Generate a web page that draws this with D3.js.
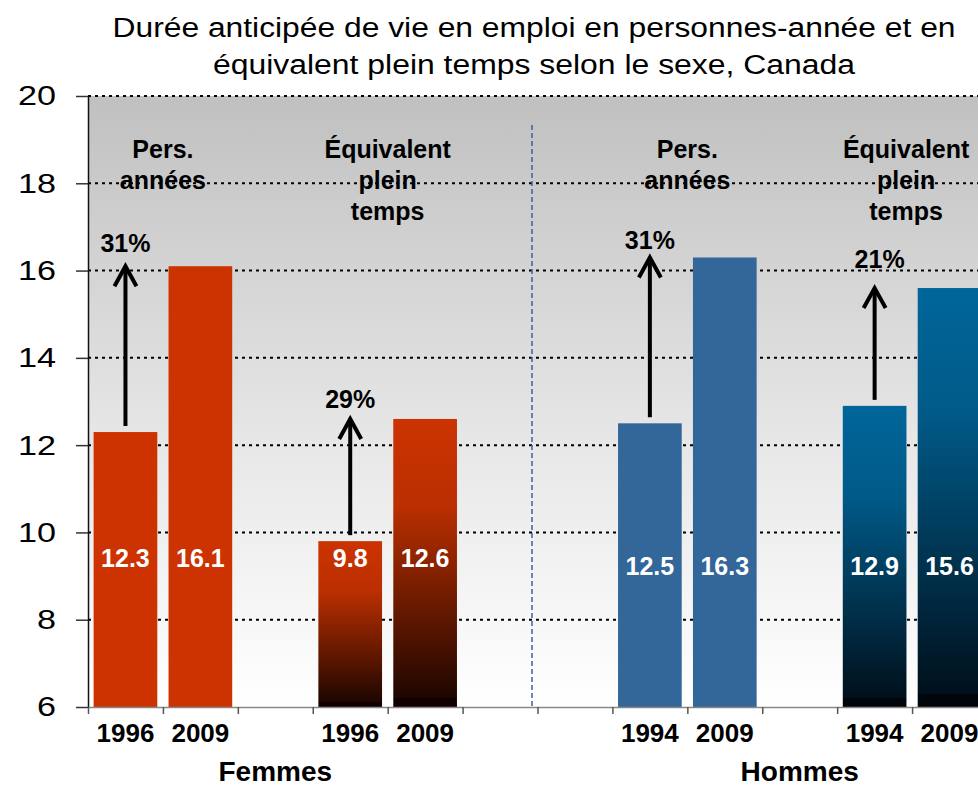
<!DOCTYPE html>
<html lang="fr">
	<head>
		<meta charset="UTF-8">
		<title>Durée anticipée de vie en emploi</title>
		<script src="https://d3js.org/d3.v7.min.js"></script>
		<style>
			body { margin: 0; background: #fff; }
			text { font-family: "Liberation Sans", Arial, sans-serif; }
		</style>
	</head>
	<body>
		<script>
			// one slot per band on the category axis, empty slots are spacers
			var years = ['1996', '2009', '', '1996', '2009', '', '', '1994', '2009', '', '1994', '2009'];
			var values = [12.3, 16.1, null, 9.8, 12.6, null, null, 12.5, 16.3, null, 12.9, 15.6];
			var series = ['fPers', 'fPers', null, 'fEquiv', 'fEquiv', null, null, 'hPers', 'hPers', null, 'hEquiv', 'hEquiv'];
			var yTicks = [6, 8, 10, 12, 14, 16, 18, 20];

			var groupNames = ['Femmes', 'Hommes'];
			var groupFirst = [0, 7];
			var groupLast = [4, 11];

			var pairFrom = [0, 3, 7, 10];
			var pairTo = [1, 4, 8, 11];
			var pairGrowth = ['31%', '29%', '31%', '21%'];
			var pairTitles = [['Pers.', 'années'], ['Équivalent', 'plein', 'temps'], ['Pers.', 'années'], ['Équivalent', 'plein', 'temps']];

			var titleLines = ['Durée anticipée de vie en emploi en personnes-année et en',
				'équivalent plein temps selon le sexe, Canada'];

			var width = 978, height = 787;
			var plotLeft = 88, plotRight = 987, plotTop = 96, plotBottom = 707;

			var svg = d3.select('body')
						.append('svg')
						.attr('width', width)
						.attr('height', height);

			var defs = svg.append('defs');

			function vGradient(id, stops) {
				var g = defs.append('linearGradient')
							.attr('id', id)
							.attr('x1', 0).attr('y1', 0)
							.attr('x2', 0).attr('y2', 1);
				stops.forEach(function(s) {
					g.append('stop').attr('offset', s[0]).attr('stop-color', s[1]);
				});
			}
			vGradient('bg', [[0, '#c0c0c0'], [0.55, '#e6e6e6'], [1, '#ffffff']]);
			vGradient('fEquiv', [[0, '#cc3300'], [0.3, '#bb2f00'], [0.97, '#1e0600'], [0.97, '#120000'], [1, '#120000']]);
			vGradient('hEquiv', [[0, '#006699'], [0.3, '#005a88'], [0.97, '#00101c'], [0.97, '#00060c'], [1, '#00060c']]);

			var fills = {
				fPers: '#cc3300',
				fEquiv: 'url(#fEquiv)',
				hPers: '#336699',
				hEquiv: 'url(#hEquiv)'
			};

			var x = d3.scaleBand()
						.domain(d3.range(years.length))
						.range([plotLeft, plotRight])
						.paddingInner(0.15)
						.paddingOuter(0.075);

			var edges = d3.scaleLinear()
						.domain([0, years.length])
						.range([plotLeft, plotRight]);

			var y = d3.scaleLinear()
						.domain([6, 20])
						.range([plotBottom, plotTop]);

			function mid(i) { return x(i) + x.bandwidth() / 2; }

			// plot background
			svg.append('rect')
				.attr('x', plotLeft)
				.attr('y', plotTop)
				.attr('width', plotRight - plotLeft)
				.attr('height', plotBottom - plotTop)
				.attr('fill', 'url(#bg)');

			// dotted grid
			svg.selectAll('.grid')
				.data(yTicks.filter(function(d) { return d > 6; }))
				.enter()
					.append('line')
					.attr('x1', plotLeft)
					.attr('x2', plotRight)
					.attr('y1', function(d) { return y(d); })
					.attr('y2', function(d) { return y(d); })
					.attr('stroke', '#000')
					.attr('stroke-width', 2)
					.attr('stroke-dasharray', '3,4');

			// separator between the sexes
			svg.append('line')
				.attr('x1', 532).attr('x2', 532)
				.attr('y1', 125).attr('y2', plotBottom)
				.attr('stroke', '#336699')
				.attr('stroke-width', 1.5)
				.attr('stroke-dasharray', '5,3');

			var idx = d3.range(values.length).filter(function(i) { return values[i] !== null; });

			svg.selectAll('.bar')
				.data(idx)
				.enter()
					.append('rect')
					.attr('x', function(i) { return x(i); })
					.attr('y', function(i) { return y(values[i]); })
					.attr('width', x.bandwidth())
					.attr('height', function(i) { return plotBottom - y(values[i]); })
					.attr('fill', function(i) { return fills[series[i]]; });

			// value labels inside bars
			svg.selectAll('.val')
				.data(idx)
				.enter()
					.append('text')
					.attr('x', function(i) { return mid(i); })
					.attr('y', function(i) { return i < 6 ? 567 : 575; })
					.attr('text-anchor', 'middle')
					.attr('font-size', 25)
					.attr('font-weight', 'bold')
					.attr('fill', '#fff')
					.text(function(i) { return d3.format('.1f')(values[i]); });

			// y axis
			var yAxis = svg.append('g')
						.attr('transform', 'translate(' + plotLeft + ',0)')
						.call(d3.axisLeft(y).tickValues(yTicks).tickSize(12).tickPadding(20).tickSizeOuter(0));
			yAxis.select('.domain').attr('stroke', '#111').attr('stroke-width', 1.5);
			yAxis.selectAll('.tick line').attr('stroke', '#333').attr('stroke-width', 1.5);
			yAxis.selectAll('.tick text')
				.attr('font-size', 28)
				.attr('fill', '#000')
				.attr('textLength', function(d) { return String(d).length * 19; })
				.attr('lengthAdjust', 'spacingAndGlyphs');

			// x axis: ticks on band edges
			var xAxis = svg.append('g')
						.attr('transform', 'translate(0,' + plotBottom + ')')
						.call(d3.axisBottom(edges).tickValues(d3.range(years.length + 1)).tickSize(7).tickSizeOuter(0).tickFormat(''));
			xAxis.select('.domain').attr('stroke', '#888').attr('stroke-width', 1.5);
			xAxis.selectAll('.tick line').attr('stroke', '#555').attr('stroke-width', 1.5);

			svg.selectAll('.year')
				.data(idx)
				.enter()
					.append('text')
					.attr('x', function(i) { return mid(i); })
					.attr('y', 742)
					.attr('text-anchor', 'middle')
					.attr('font-size', 26)
					.attr('font-weight', 'bold')
					.text(function(i) { return years[i]; });

			svg.selectAll('.group')
				.data(groupNames)
				.enter()
					.append('text')
					.attr('x', function(d, k) { return (x(groupFirst[k]) + x(groupLast[k]) + x.bandwidth()) / 2; })
					.attr('y', 781)
					.attr('text-anchor', 'middle')
					.attr('font-size', 28)
					.attr('font-weight', 'bold')
					.text(function(d) { return d; });

			// series titles above each pair
			pairTitles.forEach(function(lines, k) {
				var cx = (x(pairFrom[k]) + x(pairTo[k]) + x.bandwidth()) / 2;
				var t = svg.append('text')
							.attr('text-anchor', 'middle')
							.attr('font-size', 25)
							.attr('font-weight', 'bold');
				lines.forEach(function(s, j) {
					t.append('tspan').attr('x', cx).attr('y', 158 + j * 31).text(s);
				});
				// keep the last block inside the picture
				var box = t.node().getBBox();
				if (box.x + box.width > width - 8) {
					t.selectAll('tspan').attr('x', cx - (box.x + box.width - (width - 8)));
				}
			});

			// growth arrows
			var lift = [14, 11, 8, 20];
			pairFrom.forEach(function(a, k) {
				var b = pairTo[k];
				var cx = mid(a);
				var tip = y(values[b]);
				var base = y(values[a]) - 6;
				svg.append('path')
					.attr('d', 'M' + cx + ',' + base + 'V' + (tip + 1))
					.attr('stroke', '#000')
					.attr('stroke-width', 4)
					.attr('fill', 'none');
				svg.append('path')
					.attr('d', 'M' + (cx - 11) + ',' + (tip + 20) + 'L' + cx + ',' + tip + 'L' + (cx + 11) + ',' + (tip + 20))
					.attr('stroke', '#000')
					.attr('stroke-width', 4)
					.attr('fill', 'none');
				svg.append('text')
					.attr('x', cx + (k === 3 ? 5 : 0))
					.attr('y', tip - lift[k])
					.attr('text-anchor', 'middle')
					.attr('font-size', 25)
					.attr('font-weight', 'bold')
					.text(pairGrowth[k]);
			});

			// title
			var titleWidths = [843, 642];
			svg.selectAll('.title')
				.data(titleLines)
				.enter()
					.append('text')
					.attr('x', 534)
					.attr('y', function(d, i) { return 37 + i * 37; })
					.attr('text-anchor', 'middle')
					.attr('font-size', 27)
					.attr('textLength', function(d, i) { return titleWidths[i]; })
					.attr('lengthAdjust', 'spacingAndGlyphs')
					.text(function(d) { return d; });
		</script>
	</body>
</html>
